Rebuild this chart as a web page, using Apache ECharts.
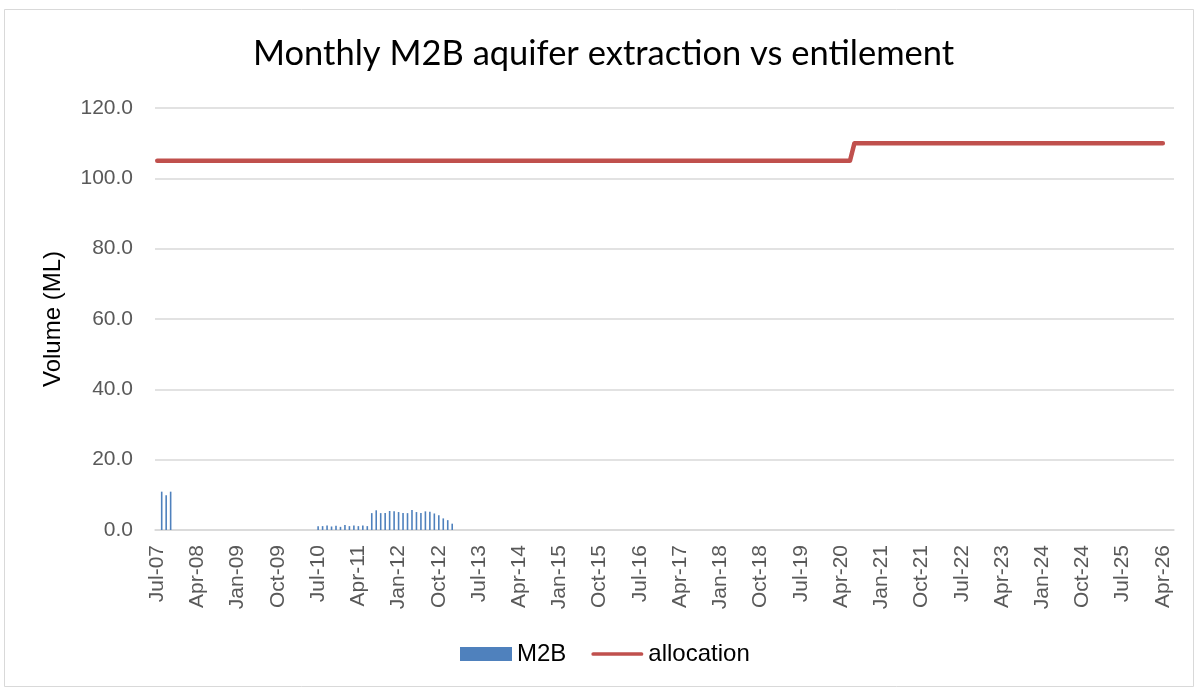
<!DOCTYPE html>
<html>
<head>
<meta charset="utf-8">
<script src="https://cdn.jsdelivr.net/npm/echarts@6/dist/echarts.min.js"></script>
<style>
  html, body { margin: 0; padding: 0; background: #fff; }
  #chart { width: 1195px; height: 688px; }
</style>
</head>
<body>
<div id="chart"></div>
<script>
    // month axis runs Jul-07 .. Jun-26, one category per month
    var monthNames = ["Jan", "Feb", "Mar", "Apr", "May", "Jun", "Jul", "Aug", "Sep", "Oct", "Nov", "Dec"];
    var firstYear = 2007, firstMonth = 6, monthCount = 228;

    // M2B extraction, two runs of monthly readings (ML)
    var m2bStart1 = "Aug-07";
    var m2bValues1 = [10.9, 9.9, 10.9];
    var m2bStart2 = "Jul-10";
    var m2bValues2 = [1.1, 1.1, 1.3, 1.0, 1.2, 0.9, 1.4, 1.1, 1.3, 1.1, 1.3, 1.1,
        4.8, 5.6, 4.8, 4.8, 5.4, 5.3, 5.1, 4.8, 4.8, 5.7, 5.1, 4.8, 5.3, 5.2, 4.7, 4.2, 3.3, 2.8, 1.8];

    // allocation (entitlement) steps
    var allocFrom = ["Jul-07", "Jul-20"];
    var allocTo = ["Jun-20", "Apr-26"];
    var allocValue = [105, 110];

    var yTicks = [0, 20, 40, 60, 80, 100, 120];

    var categories = [];
    for (var i = 0; i < monthCount; i++) {
        var m = (firstMonth + i) % 12;
        var y = firstYear + Math.floor((firstMonth + i) / 12);
        categories.push(monthNames[m] + "-" + String(y % 100).padStart(2, "0"));
    }

    var m2b = categories.map(function () { return null; });
    var s1 = categories.indexOf(m2bStart1);
    m2bValues1.forEach(function (v, k) { m2b[s1 + k] = v; });
    var s2 = categories.indexOf(m2bStart2);
    m2bValues2.forEach(function (v, k) { m2b[s2 + k] = v; });

    var allocation = categories.map(function () { return null; });
    allocValue.forEach(function (v, k) {
        var a = categories.indexOf(allocFrom[k]), b = categories.indexOf(allocTo[k]);
        for (var j = a; j <= b; j++) allocation[j] = v;
    });

    var myChart = echarts.init(document.getElementById("chart"));

    myChart.setOption({
        animation: false,
        backgroundColor: "#fff",
        textStyle: { fontFamily: "Liberation Sans" },
        graphic: [{
            type: "rect",
            shape: { x: 4.5, y: 9.5, width: 1189, height: 677 },
            style: { fill: "none", stroke: "#d9d9d9", lineWidth: 1 },
            silent: true
        }],
        title: {
            text: "Monthly M2B aquifer extraction vs entilement",
            left: 248,
            top: 31,
            textStyle: { fontFamily: "Lato", fontSize: 34.5, fontWeight: "normal", color: "#000" }
        },
        legend: {
            left: 460,
            top: 642,
            padding: 0,
            itemWidth: 52,
            itemHeight: 14,
            itemGap: 25,
            textStyle: { fontFamily: "Liberation Sans", fontSize: 24, color: "#000", padding: [0, 0, 0, 0] },
            data: [
                { name: "M2B", icon: "rect" },
                { name: "allocation", icon: "path://M2,0 L54,0 A2,2 0 0 1 54,4 L2,4 A2,2 0 0 1 2,0 Z" }
            ]
        },
        grid: {
            left: 155,
            right: 21,
            top: 108,
            bottom: 158
        },
        xAxis: {
            type: "category",
            data: categories,
            axisLine: { lineStyle: { color: "#d9d9d9", width: 1.5 } },
            axisTick: { show: false },
            axisLabel: {
                interval: 8,
                rotate: 90,
                margin: 15,
                color: "#595959",
                fontSize: 21
            }
        },
        yAxis: {
            type: "value",
            min: yTicks[0],
            max: yTicks[yTicks.length - 1],
            interval: 20,
            name: "Volume (ML)",
            nameLocation: "middle",
            nameGap: 90,
            nameTextStyle: { fontSize: 24, color: "#000" },
            axisLine: { show: false },
            axisTick: { show: false },
            splitLine: { lineStyle: { color: "#d9d9d9", width: 1.5 } },
            axisLabel: {
                margin: 22,
                color: "#595959",
                fontSize: 21,
                formatter: function (v) { return v.toFixed(1); }
            }
        },
        series: [{
            name: "M2B",
            type: "bar",
            data: m2b,
            barWidth: 1.6,
            itemStyle: { color: "#4f81bd" }
        }, {
            name: "allocation",
            type: "line",
            data: allocation,
            symbol: "none",
            lineStyle: { color: "#c0504d", width: 4.5, cap: "round", join: "round" },
            itemStyle: { color: "#c0504d" }
        }]
    });
</script>
</body>
</html>
